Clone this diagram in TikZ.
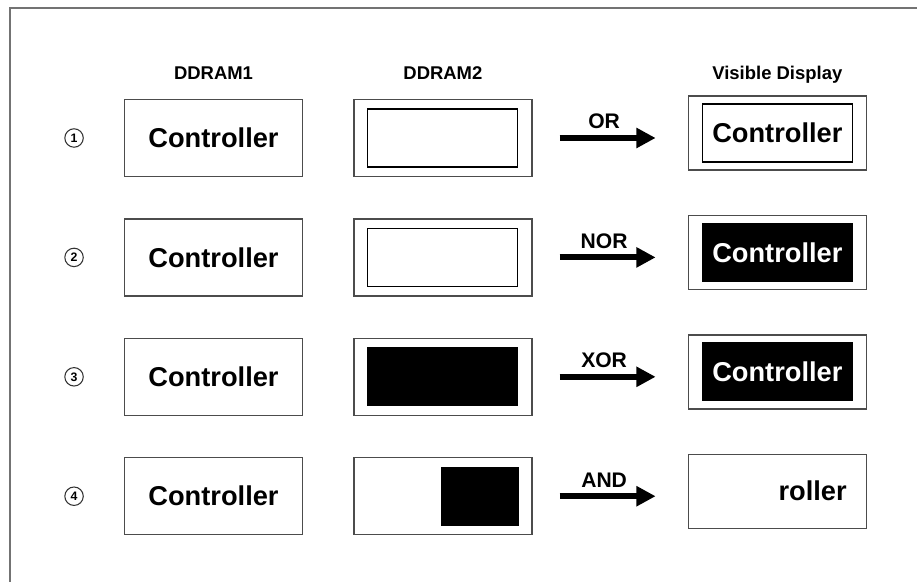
\documentclass[tikz,border=0pt]{standalone}
\usepackage{fontspec}
\setmainfont{Liberation Sans}
\usetikzlibrary{positioning,arrows.meta}

\begin{document}
\begin{tikzpicture}[node distance=1cm, >={Triangle[length=11pt,width=11pt]}, font=\bfseries]
\tikzstyle{box}=[
    draw=black!70, line width=0.8pt,
    minimum width=3.56cm,
    minimum height=1.54cm,
    inner sep=0pt,
    font=\fontsize{15.5}{18}\selectfont\bfseries
]
\tikzstyle{view}=[box, minimum height=1.48cm]
\tikzstyle{inbox}=[box, draw=black, line width=0.6pt, minimum width=3cm, minimum height=1.16cm]
\tikzstyle{blackbox}=[inbox, fill=black, text=white]
\tikzstyle{num}=[draw=black!80, circle, line width=0.6pt, minimum size=10.5pt, inner sep=0pt, font=\fontsize{7}{8}\selectfont\bfseries]
\tikzstyle{head}=[font=\fontsize{10.5}{12}\selectfont\bfseries]
\tikzstyle{op}=[font=\fontsize{12}{14}\selectfont\bfseries, xshift=-0.12cm]
\tikzstyle{arr}=[->, line width=3.5pt, shorten <=0.54cm, shorten >=0.64cm]

\useasboundingbox (0,0) rectangle (18.34,-11.64);
% outer frame, cut off at right and bottom
\draw[black!55, line width=1.2pt] (0.2,-12) |- (19,-0.16);

% row 1
\node[box] (ram1a) at (4.27,-2.76) {Controller};
\node[box, right=of ram1a] (ram2a) {};
\node[inbox] (ram2a-in) at (ram2a) {};
\node[view, right=3.1cm of ram2a, yshift=0.1cm] (viewa) {};
\node[inbox] (viewa-in) at (viewa) {Controller};
\node[num, left=0.8cm of ram1a] (numa) {1};

% row 2
\node[box, below=0.82cm of ram1a] (ram1b) {Controller};
\node[box, right=of ram1b] (ram2b) {};
\node[inbox] (ram2b-in) at (ram2b) {};
\node[view, right=3.1cm of ram2b, yshift=0.1cm] (viewb) {};
\node[blackbox] (viewb-in) at (viewb) {Controller};
\node[num, left=0.8cm of ram1b] (numb) {2};

% row 3
\node[box, below=0.82cm of ram1b] (ram1c) {Controller};
\node[box, right=of ram1c] (ram2c) {};
\node[blackbox] (ram2c-in) at (ram2c) {};
\node[view, right=3.1cm of ram2c, yshift=0.1cm] (viewc) {};
\node[blackbox] (viewc-in) at (viewc) {Controller};
\node[num, left=0.8cm of ram1c] (numc) {3};

% row 4
\node[box, below=0.82cm of ram1c] (ram1d) {Controller};
\node[box, right=of ram1d] (ram2d) {};
\node[blackbox, minimum width=1.54cm, anchor=east] (ram2d-in) at ([xshift=-0.28cm]ram2d.east) {};
\node[view, right=3.1cm of ram2d, yshift=0.1cm] (viewd) {};
\node[anchor=east, inner sep=0pt, font=\fontsize{15.5}{18}\selectfont\bfseries] (viewd-txt) at ([xshift=-0.4cm]viewd.east) {roller};
\node[num, left=0.8cm of ram1d] (numd) {4};

% column heads
\node[head, above=0.26cm of ram1a] (head1) {DDRAM1};
\node[head, above=0.26cm of ram2a] (head2) {DDRAM2};
\node[head, above=0.12cm of viewa] (head3) {Visible Display};

\draw[arr] (ram2a.east) -- (ram2a.east -| viewa.west) node[op, midway, above] {OR};
\draw[arr] (ram2b.east) -- (ram2b.east -| viewb.west) node[op, midway, above] {NOR};
\draw[arr] (ram2c.east) -- (ram2c.east -| viewc.west) node[op, midway, above] {XOR};
\draw[arr] (ram2d.east) -- (ram2d.east -| viewd.west) node[op, midway, above] {AND};
\end{tikzpicture}
\end{document}
